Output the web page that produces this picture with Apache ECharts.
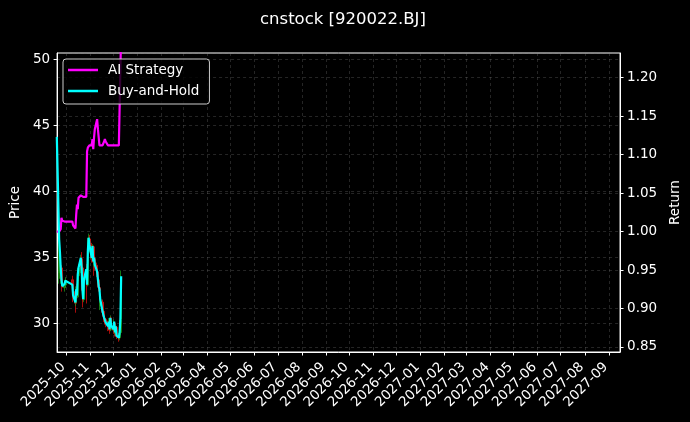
<!DOCTYPE html>
<html>
<head>
<meta charset="utf-8">
<script src="https://cdn.jsdelivr.net/npm/echarts@6/dist/echarts.min.js"></script>
<style>
html,body{margin:0;padding:0;background:#000;}
#c{width:690px;height:422px;}
</style>
</head>
<body>
<div id="c"></div>
<script>
// ---- data ----
const dates = [
 '2025-09-19','2025-09-22','2025-09-23','2025-09-24','2025-09-25','2025-09-26','2025-09-29','2025-09-30',
 '2025-10-09','2025-10-10','2025-10-13','2025-10-14','2025-10-15','2025-10-16','2025-10-17',
 '2025-10-20','2025-10-21','2025-10-22','2025-10-23','2025-10-24','2025-10-27','2025-10-28','2025-10-29','2025-10-30','2025-10-31',
 '2025-11-03','2025-11-04','2025-11-05','2025-11-06','2025-11-07','2025-11-10','2025-11-11','2025-11-12','2025-11-13','2025-11-14',
 '2025-11-17','2025-11-18','2025-11-19','2025-11-20','2025-11-21','2025-11-24','2025-11-25','2025-11-26','2025-11-27','2025-11-28',
 '2025-12-01','2025-12-02','2025-12-03','2025-12-04','2025-12-05','2025-12-08','2025-12-09','2025-12-10','2025-12-11'
];
// first day's candle lies outside the plotted window (not visible), so it is left empty
const opens  = [null,33.8,34.2,33.4,34.2,33.3,32.7,32.9, 33.3,32.9,32.4,31.6,32.6,32.0,33.6, 34.0,34.9,34.2,32.5,31.8,33.3,34.0,32.9,35.4,36.4, 35.9,34.9,35.8,34.6,34.9,34.4,33.9,33.3,32.7,31.3, 31.6,30.9,30.6,30.4,30.3,30.0,29.7,30.1,29.5,30.4, 29.8,29.5,30.0,29.2,29.7,29.0,28.9,29.3,30.3];
const closes = [null,36.3,35.39,34.17,33.26,32.73,32.96,33.19, 32.88,32.05,31.52,32.5,32.05,33.64,34.17, 34.93,34.17,32.5,31.75,33.26,34.02,32.88,35.39,36.45,35.92, 34.93,35.77,34.63,34.93,34.4,33.87,33.26,32.73,32.5,31.75, 30.83,30.61,30.38,30.23,30.0,29.7,30.08,29.47,30.38,29.77, 29.47,30.08,29.24,29.7,29.01,28.86,29.24,30.23,33.49];
const lows   = [null,33.0,33.8,33.0,33.0,32.4,32.4,32.7, 32.3,31.6,30.8,31.3,31.8,31.9,33.2, 33.8,33.9,32.2,31.2,31.6,33.0,31.5,32.8,35.2,35.5, 34.6,34.8,33.6,34.3,34.0,33.5,32.9,32.4,31.8,31.0, 30.5,30.3,30.1,29.9,29.7,29.4,29.5,29.2,29.4,29.5, 29.2,29.4,29.0,29.0,28.8,28.6,28.7,29.1,30.0];
const highs  = [null,37.0,35.8,34.6,34.4,33.5,33.3,33.5, 33.6,33.0,32.6,32.8,33.0,33.9,34.5, 35.2,35.4,34.3,32.7,33.5,34.3,34.5,35.6,36.8,36.7, 36.1,36.0,35.9,35.2,35.1,34.6,34.0,33.4,33.0,32.6, 31.8,31.0,30.8,30.6,30.4,30.2,30.4,30.2,30.6,30.5, 29.9,30.3,30.1,29.9,29.8,29.1,29.4,30.5,34.0];
const aiReturns = [1.000,1.000,1.000,1.003,1.018,1.014,1.013,1.013, 1.013,1.008,1.004,1.022,1.035,1.029,1.044, 1.047,1.047,1.045,1.045,1.045,1.045,1.104,1.109,1.109,1.112, 1.112,1.120,1.107,1.122,1.133,1.146,1.133,1.135,1.112,1.112, 1.112,1.112,1.117,1.120,1.117,1.112,1.112,1.112,1.112,1.112, 1.112,1.112,1.112,1.112,1.112,1.112,1.112,1.112,1.26];
const bhReturns = [1.123,0.990,0.974,0.953,0.938,0.929,0.932,0.936, 0.931,0.917,0.908,0.925,0.917,0.944,0.953, 0.966,0.953,0.925,0.912,0.938,0.951,0.931,0.974,0.992,0.983, 0.966,0.981,0.961,0.966,0.957,0.948,0.938,0.929,0.925,0.912, 0.896,0.892,0.888,0.886,0.882,0.877,0.883,0.873,0.888,0.878, 0.873,0.883,0.869,0.877,0.865,0.862,0.869,0.886,0.942];

const candleData = dates.map((d,i)=> opens[i]==null ? [d,'-','-','-','-'] : [d, opens[i], closes[i], lows[i], highs[i]]);
const aiData = dates.map((d,i)=>[d, aiReturns[i]]);
const bhData = dates.map((d,i)=>[d, bhReturns[i]]);

const FONT = 'DejaVu Sans';
const FS = 13.5;
const gridLine = {show:true, lineStyle:{color:'rgba(140,140,140,0.45)', width:0.6, type:[3,3]}};

const chart = echarts.init(document.getElementById('c'), null, {renderer:'canvas'});
chart.setOption({
  backgroundColor:'#000',
  animation:false,
  textStyle:{fontFamily:FONT},
  title:{
    text:'cnstock [920022.BJ]', left:255, top:6,
    textStyle:{color:'#fff', fontSize:16.5, fontWeight:'normal', fontFamily:FONT}
  },
  legend:{
    orient:'vertical', left:63, top:59,
    data:['AI Strategy','Buy-and-Hold'],
    backgroundColor:'rgba(0,0,0,0.8)', borderColor:'#cccccc', borderWidth:1, borderRadius:3,
    padding:[4,10,6,5], itemGap:7, itemWidth:30, itemHeight:2.5, icon:'rect',
    textStyle:{color:'#fff', fontSize:FS, fontFamily:FONT, padding:[0,0,0,5]}
  },
  grid:{left:57, right:69, top:53, bottom:70, show:true, borderColor:'#fff', borderWidth:1, backgroundColor:'transparent'},
  xAxis:{
    type:'time',
    min:'2025-09-19T08:00:00', max:'2027-09-15T12:00:00',
    splitNumber:24, minInterval:28*86400000, maxInterval:31*86400000,
    axisLine:{lineStyle:{color:'#fff'}},
    axisTick:{show:true, length:3.5, lineStyle:{color:'#fff'}},
    axisLabel:{color:'#fff', fontSize:FS, rotate:45, formatter:'{yyyy}-{MM}', margin:10, padding:[0,4,0,0], hideOverlap:false, fontFamily:FONT},
    splitLine:gridLine
  },
  yAxis:[
    {
      type:'value', position:'left', min:27.82, max:50.5, splitNumber:5,
      name:'Price', nameLocation:'middle', nameGap:32, nameRotate:90,
      nameTextStyle:{color:'#fff', fontSize:FS, fontFamily:FONT},
      axisLine:{show:true, lineStyle:{color:'#fff'}},
      axisTick:{show:true, length:3.5, lineStyle:{color:'#fff'}},
      axisLabel:{color:'#fff', fontSize:FS, margin:7, showMinLabel:false, showMaxLabel:false, fontFamily:FONT},
      splitLine:gridLine
    },
    {
      type:'value', position:'right', min:0.8435, max:1.232, splitNumber:8,
      name:'Return', nameLocation:'middle', nameGap:46, nameRotate:90,
      nameTextStyle:{color:'#fff', fontSize:FS, fontFamily:FONT},
      axisLine:{show:true, lineStyle:{color:'#fff'}},
      axisTick:{show:true, length:3.5, lineStyle:{color:'#fff'}},
      axisLabel:{color:'#fff', fontSize:FS, margin:7, showMinLabel:false, showMaxLabel:false, fontFamily:FONT,
        formatter:v=>v.toFixed(2)},
      splitLine:gridLine
    }
  ],
  series:[
    {
      name:'Price', type:'candlestick', yAxisIndex:0, data:candleData, barWidth:2, clip:true,
      itemStyle:{color:'#1a9a1a', color0:'#e01010', borderColor:'#1a9a1a', borderColor0:'#e01010', borderWidth:1, opacity:0.75}
    },
    {
      name:'AI Strategy', type:'line', yAxisIndex:1, data:aiData, showSymbol:false, symbol:'none', clip:true,
      lineStyle:{color:'#ff00ff', width:2.2}, itemStyle:{color:'#ff00ff'}
    },
    {
      name:'Buy-and-Hold', type:'line', yAxisIndex:1, data:bhData, showSymbol:false, symbol:'none', clip:true,
      lineStyle:{color:'#00ffff', width:2.2}, itemStyle:{color:'#00ffff'}
    }
  ]
});
</script>
</body>
</html>
